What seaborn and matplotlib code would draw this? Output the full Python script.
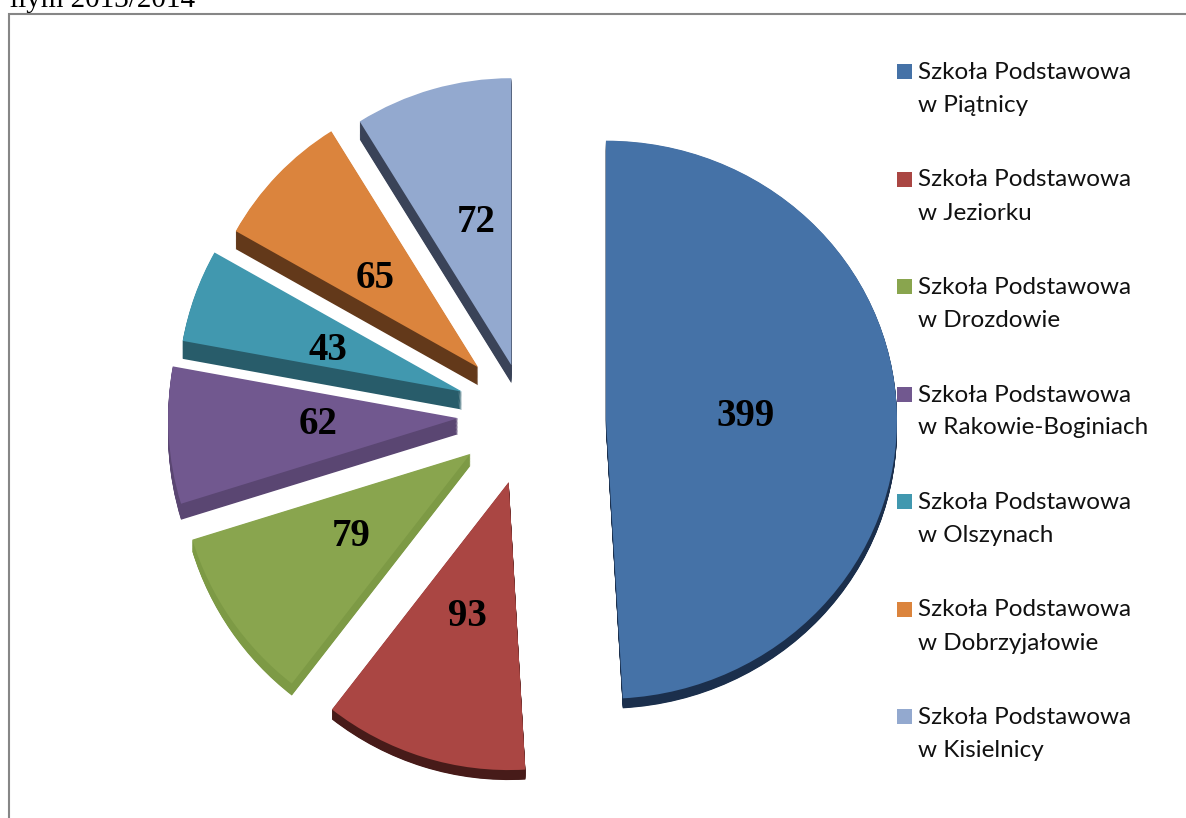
import matplotlib
matplotlib.use('Agg')
import matplotlib.pyplot as plt
from matplotlib.patches import Rectangle
from matplotlib.transforms import Affine2D
import numpy as np
import seaborn as sns

# Dane
schools = ['Szkoła Podstawowa\nw Piątnicy', 'Szkoła Podstawowa\nw Jeziorku', 'Szkoła Podstawowa\nw Drozdowie',
           'Szkoła Podstawowa\nw Rakowie-Boginiach', 'Szkoła Podstawowa\nw Olszynach',
           'Szkoła Podstawowa\nw Dobrzyjałowie', 'Szkoła Podstawowa\nw Kisielnicy']
pupils = [399, 93, 79, 62, 43, 65, 72]

# Style
top_colors = ['#4572A7', '#AA4643', '#89A54E', '#71588F', '#4198AF', '#DB843D', '#93A9CF']
side_colors = ['#1B2F4C', '#471B19', '#7D9A45', '#5A4672', '#285C6A', '#63391A', '#3A4358']
explode_px = [78, 65, 70, 70, 69, 69, 57]
shift_px = [(0, 2), (0, 0), (0, -6), (0, -6), (-1, -5), (0, -5), (-1, 0)]  # poprawka na perspektywe
radius_px = [291, 288, 291, 290, 284, 278, 287]
squash = [0.959, 1, 1, 1, 1, 1, 1]
depth_px = [10, 10, 12, 16, 18, 18, 18]
label_pos = [(746, 413), (467, 614), (351, 533), (318, 422), (328, 348), (375, 275), (476, 219)]

W, H = 1186, 818
CX, CY, R = 528, H - 420, 285


def flip(y):
    return H - y


sns.set_theme(style='white')
plt.rcParams['font.family'] = ['Lato', 'DejaVu Sans']

fig = plt.figure(figsize=(W / 100, H / 100), dpi=100)
ax = fig.add_axes([0, 0, 1, 1])


def draw_pie(colors, drop=0.0):
    wedges, _ = ax.pie(pupils, colors=colors, explode=explode_px, radius=R, center=(CX, CY),
                       startangle=90, counterclock=False, wedgeprops={'linewidth': 0})
    for i, wedge in enumerate(wedges):
        x, y = wedge.center
        x, y = x + shift_px[i][0], y - shift_px[i][1]
        wedge.set_center((x, y))
        wedge.set_radius(radius_px[i])
        wedge.set_transform(Affine2D().translate(-x, -y).scale(1, squash[i]).translate(x, y - depth_px[i] * drop)
                            + ax.transData)
    return wedges


# Bok "3D": kopie przesuniete w dol
for step in np.linspace(1, 0.05, 20):
    draw_pie(side_colors, step)

draw_pie(top_colors)

ax.set_aspect('auto')
ax.set_xlim(0, W)
ax.set_ylim(0, H)
ax.axis('off')

for value, (x, y) in zip(pupils, label_pos):
    ax.text(x, flip(y + 3), str(value), ha='center', va='center', fontsize=28, fontweight='bold',
            family='Liberation Serif', color='black')

# Legenda
for i, (name, color) in enumerate(zip(schools, top_colors)):
    y0 = 72.5 + i * 107.5
    ax.add_patch(Rectangle((897, flip(y0 + 6.5)), 15, 15, facecolor=color, edgecolor='none'))
    first, second = name.split('\n')
    ax.text(918, flip(y0), first, va='center', ha='left', fontsize=17.5, color='#111111')
    ax.text(918, flip(y0 + 33), second, va='center', ha='left', fontsize=17.5, color='#111111')

# Ramka i urwany tekst nad nia
ax.plot([8.5, 8.5, W], [0, flip(14), flip(14)], color='#868686', lw=1.5, solid_joinstyle='miter')
ax.text(10, flip(7), 'ilym 2013/2014', ha='left', va='baseline', fontsize=21,
        family='Liberation Serif', color='black')

fig.savefig('out.png', dpi=100)
